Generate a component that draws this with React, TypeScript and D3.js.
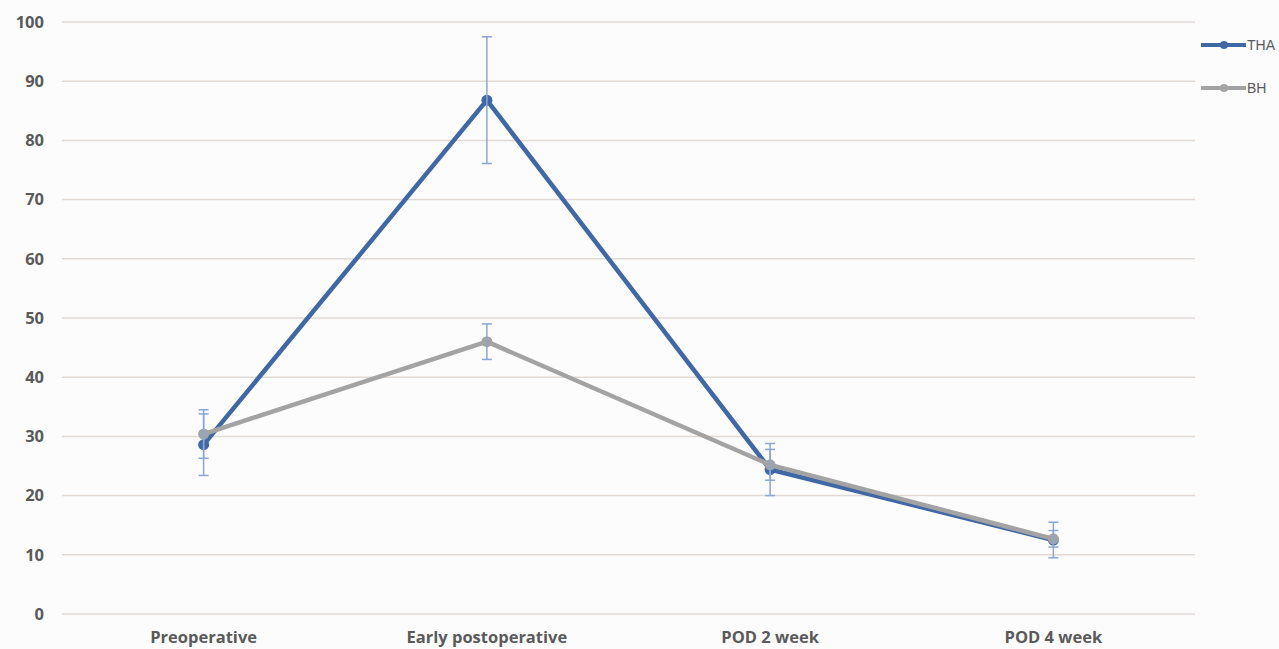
import React, { useEffect, useRef } from 'react';
import * as d3 from 'd3';

const categories = ['Preoperative', 'Early postoperative', 'POD 2 week', 'POD 4 week'];
const thaValues = [28.6, 86.8, 24.4, 12.5];
const thaErrors = [5.2, 10.7, 4.4, 3.0];
const bhValues = [30.4, 46.0, 25.2, 12.7];
const bhErrors = [4.1, 3.0, 2.6, 1.4];
const yTicks = [0, 10, 20, 30, 40, 50, 60, 70, 80, 90, 100];

const seriesList = [
  { name: 'THA', values: thaValues, errors: thaErrors, color: '#3f68a5' },
  { name: 'BH', values: bhValues, errors: bhErrors, color: '#a3a3a3' },
];

const App = () => {
  const svgRef = useRef<SVGSVGElement>(null);

  useEffect(() => {
    const svg = d3.select(svgRef.current);
    svg.selectAll('*').remove();

    const W = 1279, H = 649;
    const left = 62, right = 1195, top = 22, bottom = 614;

    svg.append('rect').attr('width', W).attr('height', H).attr('fill', '#fcfcfd');

    const x = d3.scaleBand().domain(categories).range([left, right]);
    const y = d3.scaleLinear().domain([0, 100]).range([bottom, top]);
    const cx = (c: string) => (x(c) as number) + x.bandwidth() / 2;

    // gridlines
    svg.append('g')
      .selectAll('line')
      .data(yTicks)
      .enter().append('line')
      .attr('x1', left).attr('x2', right)
      .attr('y1', d => y(d)).attr('y2', d => y(d))
      .attr('stroke', '#e0d9d4').attr('stroke-width', 1.5);

    // y tick labels
    svg.append('g')
      .selectAll('text')
      .data(yTicks)
      .enter().append('text')
      .attr('x', 44).attr('y', d => y(d))
      .attr('dy', '0.35em')
      .attr('text-anchor', 'end')
      .style('font-family', 'Open Sans')
      .style('font-weight', 700)
      .style('font-size', '16.5px')
      .attr('fill', '#5a5a5a')
      .text(d => d);

    // x labels
    svg.append('g')
      .selectAll('text')
      .data(categories)
      .enter().append('text')
      .attr('x', d => cx(d)).attr('y', 643)
      .attr('text-anchor', 'middle')
      .style('font-family', 'Open Sans')
      .style('font-weight', 700)
      .style('font-size', '16.5px')
      .attr('fill', '#5a5a5a')
      .text(d => d);

    const line = d3.line<number>()
      .x((d, i) => cx(categories[i]))
      .y(d => y(d));

    // lines and markers (BH drawn over THA)
    seriesList.forEach(s => {
      svg.append('path')
        .datum(s.values)
        .attr('fill', 'none')
        .attr('stroke', s.color)
        .attr('stroke-width', 4.5)
        .attr('stroke-linejoin', 'round')
        .attr('d', line);
      svg.append('g')
        .selectAll('circle')
        .data(s.values)
        .enter().append('circle')
        .attr('cx', (d, i) => cx(categories[i]))
        .attr('cy', d => y(d))
        .attr('r', 5.5)
        .attr('fill', s.color);
    });

    // error bars
    seriesList.forEach(s => {
      const g = svg.append('g').attr('stroke', '#8aa6d6').attr('stroke-width', 1.5);
      s.values.forEach((v, i) => {
        const px = cx(categories[i]);
        const e = s.errors[i];
        g.append('line').attr('x1', px).attr('x2', px).attr('y1', y(v - e)).attr('y2', y(v + e));
        [v - e, v + e].forEach(t => {
          g.append('line').attr('x1', px - 5).attr('x2', px + 5).attr('y1', y(t)).attr('y2', y(t));
        });
      });
    });

    // legend
    seriesList.forEach((s, i) => {
      const ly = 45 + i * 43;
      svg.append('line')
        .attr('x1', 1201).attr('x2', 1246)
        .attr('y1', ly).attr('y2', ly)
        .attr('stroke', s.color).attr('stroke-width', 4);
      svg.append('circle').attr('cx', 1224).attr('cy', ly).attr('r', 4).attr('fill', s.color);
      svg.append('text')
        .attr('x', 1247).attr('y', ly)
        .attr('dy', '0.35em')
        .style('font-family', 'Liberation Sans Narrow, Liberation Sans')
        .style('font-size', '14px')
        .attr('fill', '#595959')
        .text(s.name);
    });
  }, []);

  return <svg ref={svgRef} width={1279} height={649} style={{ position: 'absolute', left: 0, top: 0 }} />;
};

export default App;
